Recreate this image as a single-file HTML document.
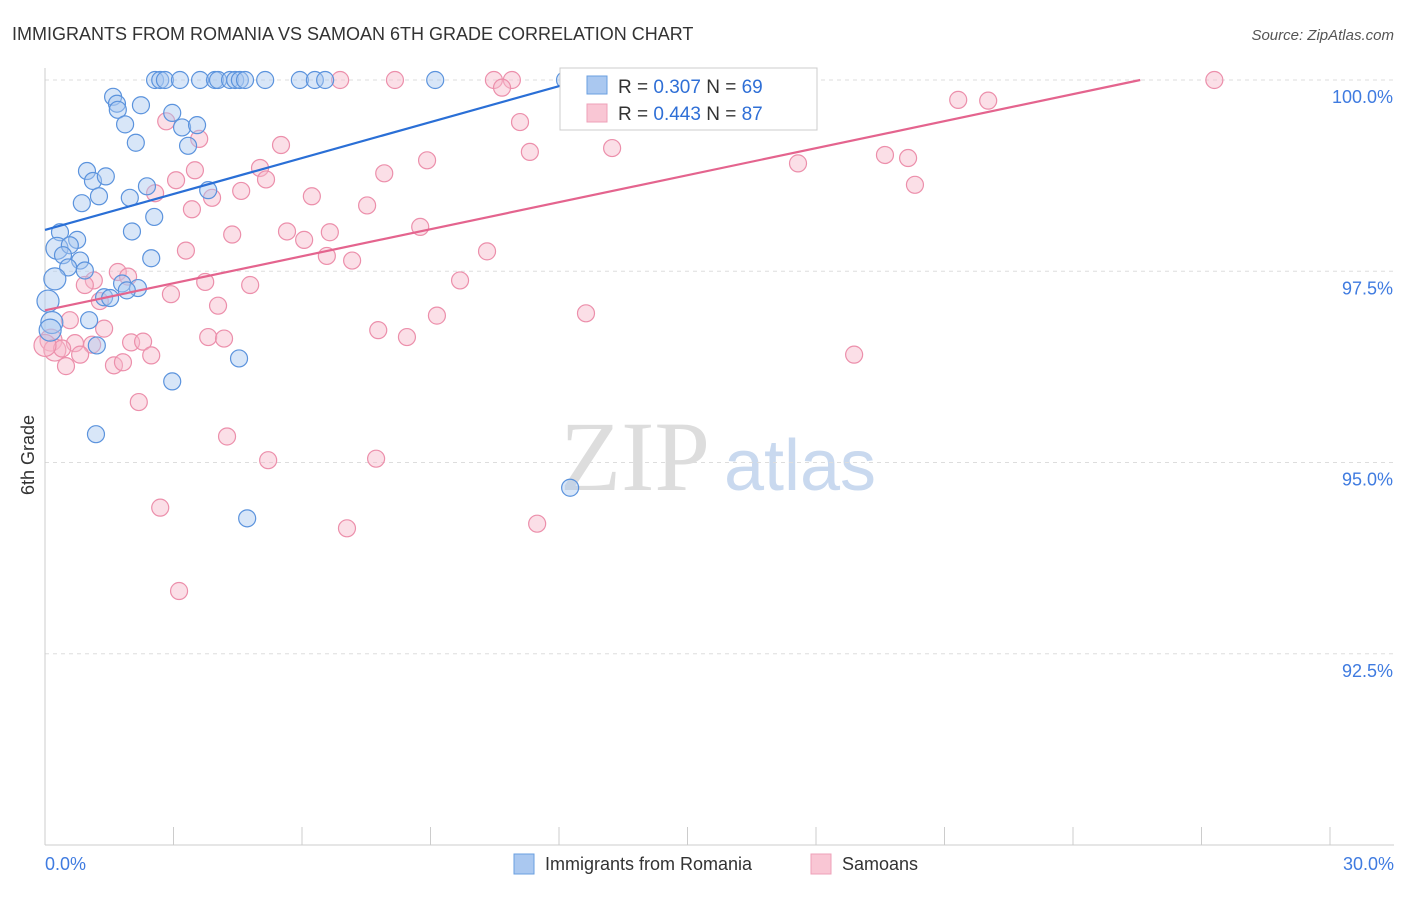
<!DOCTYPE html>
<html><head><meta charset="utf-8"><style>
body{margin:0;background:#fff;font-family:"Liberation Sans",sans-serif;}
svg text{font-family:"Liberation Sans",sans-serif;}
</style></head><body>
<svg id="chart" width="1406" height="892" xmlns="http://www.w3.org/2000/svg">
<text x="12" y="40" font-size="18" fill="#333">IMMIGRANTS FROM ROMANIA VS SAMOAN 6TH GRADE CORRELATION CHART</text>
<text x="1394" y="40" font-size="15" fill="#555" text-anchor="end" font-style="italic">Source: ZipAtlas.com</text>
<text x="34" y="455" font-size="18" fill="#333" text-anchor="middle" transform="rotate(-90 34 455)">6th Grade</text>
<g>
<text x="635" y="490" font-size="100" fill="#ddd" text-anchor="middle" font-family="Liberation Serif,serif" style="font-family:'Liberation Serif',serif">ZIP</text>
<text x="800" y="490" font-size="72" fill="#c9d9ef" text-anchor="middle">atlas</text>
</g>
<g id="grid"></g><g id="axes"></g><g id="marks"></g>
<g>
<rect x="560" y="68" width="257" height="62" fill="#fff" stroke="#ccc"/>
<rect x="587" y="76" width="20" height="18" fill="#aac8f0" stroke="#6a9fe0"/>
<rect x="587" y="104" width="20" height="18" fill="#f9c6d4" stroke="#eea0b8"/>
<text x="618" y="93" font-size="19" fill="#333">R = <tspan fill="#2f6fd6">0.307</tspan>   N = <tspan fill="#2f6fd6">69</tspan></text>
<text x="618" y="120" font-size="19" fill="#333">R = <tspan fill="#2f6fd6">0.443</tspan>   N = <tspan fill="#2f6fd6">87</tspan></text>
</g>
<g>
<rect x="514" y="854" width="20" height="20" fill="#aac8f0" stroke="#6a9fe0"/>
<text x="545" y="870" font-size="18" fill="#333">Immigrants from Romania</text>
<rect x="811" y="854" width="20" height="20" fill="#f9c6d4" stroke="#eea0b8"/>
<text x="842" y="870" font-size="18" fill="#333">Samoans</text>
</g>
</svg>
<script>
const blueX=[2.57,2.69,2.80,3.15,3.62,3.97,4.04,4.32,4.44,4.55,4.67,5.14,5.95,6.30,6.54,9.11,12.14,1.59,1.68,1.70,2.24,2.97,1.87,3.20,3.55,2.12,3.34,0.98,1.12,1.42,2.38,0.86,1.26,1.98,3.81,2.55,2.03,0.35,0.75,0.28,0.58,0.42,0.82,0.54,0.93,2.48,0.23,1.80,2.17,1.91,1.38,1.52,0.07,1.03,0.16,0.12,1.21,4.53,2.97,1.19,12.26,4.72];
const blueY=[100,100,100,100,100,100,100,100,100,100,100,100,100,100,100,100,100,99.78,99.69,99.61,99.67,99.57,99.42,99.38,99.41,99.18,99.14,98.81,98.68,98.74,98.61,98.39,98.48,98.46,98.56,98.21,98.02,98.01,97.91,97.80,97.84,97.71,97.64,97.55,97.51,97.67,97.40,97.34,97.28,97.25,97.16,97.15,97.11,96.86,96.83,96.73,96.53,96.36,96.06,95.37,94.67,94.27];
const pinkX=[6.89,8.17,10.48,10.90,12.49,14.55,27.30,10.67,21.32,22.02,2.83,11.09,3.60,5.51,11.32,13.24,8.92,19.61,20.15,17.58,3.50,3.06,5.02,5.16,7.92,20.31,2.57,4.58,6.23,3.90,7.52,3.43,4.37,5.65,6.65,6.05,8.76,3.29,10.32,6.58,7.17,1.70,1.94,1.14,0.93,3.74,4.79,9.69,2.94,1.28,4.04,12.63,0.58,1.38,7.78,9.15,8.45,3.81,4.18,2.01,2.29,1.10,0.70,0.14,0.23,0.40,0.82,2.48,1.61,1.82,0.49,18.89,2.19,4.25,5.21,7.73,2.69,7.05,11.49,3.13,0];
const pinkY=[100,100,100,100,100,100,100,99.90,99.74,99.73,99.46,99.45,99.23,99.15,99.06,99.11,98.95,99.02,98.98,98.91,98.82,98.69,98.85,98.70,98.78,98.63,98.52,98.55,98.48,98.46,98.36,98.31,97.98,98.02,98.01,97.91,98.08,97.77,97.76,97.70,97.64,97.49,97.43,97.38,97.32,97.36,97.32,97.38,97.20,97.11,97.05,96.95,96.86,96.75,96.73,96.92,96.64,96.64,96.62,96.57,96.58,96.54,96.56,96.60,96.47,96.49,96.41,96.40,96.27,96.31,96.26,96.41,95.79,95.34,95.03,95.05,94.41,94.14,94.20,93.32,96.53];
const blueTrend=[[0,98.04],[12.96,100.07]];
const pinkTrend=[[0,96.99],[25.57,100.0]];
const yTicks=[100,97.5,95,92.5];
const yTickLabels=["100.0%","97.5%","95.0%","92.5%"];
const xTicks=[0,3,6,9,12,15,18,21,24,27,30];

const NS="http://www.w3.org/2000/svg";
const X0=45,X1=1330,Y0=845,Y1=80;
const sx=v=>X0+(v-0)/30*(X1-X0);
const sy=v=>Y0-(v-90)/10*(Y0-Y1);
function mk(tag,attrs,parent){const e=document.createElementNS(NS,tag);for(const k in attrs)e.setAttribute(k,attrs[k]);parent.appendChild(e);return e;}
const grid=document.getElementById('grid'),axes=document.getElementById('axes'),marks=document.getElementById('marks');
yTicks.forEach((t,i)=>{
 const l=mk('line',{x1:X0,x2:1394,y1:sy(t),y2:sy(t),stroke:'#ddd','stroke-dasharray':'4,4'},grid);
 
 
 const tx=mk('text',{x:1393,y:sy(t)+23,'font-size':18,fill:'#3f7be0','text-anchor':'end'},axes);
 tx.textContent=yTickLabels[i];
 
 
});
const ax=mk('line',{x1:X0,x2:X0,y1:68,y2:Y0,stroke:'#ccc'},axes);


const bx=mk('line',{x1:X0,x2:1394,y1:Y0,y2:Y0,stroke:'#ccc'},axes);


xTicks.forEach(t=>{
 const l=mk('line',{x1:sx(t),x2:sx(t),y1:827,y2:Y0,stroke:'#ccc'},axes);
 
 
});
const xl0=mk('text',{x:45,y:870,'font-size':18,fill:'#3f7be0'},axes);xl0.textContent='0.0%';


const xl1=mk('text',{x:1394,y:870,'font-size':18,fill:'#3f7be0','text-anchor':'end'},axes);xl1.textContent='30.0%';


function dots(xs,ys,fill,stroke,name){
 xs.forEach((x,i)=>{
  const r=x<0.3?11:8.5;
  const c=mk('circle',{cx:sx(x),cy:sy(ys[i]),r:r,fill:fill,'fill-opacity':0.45,stroke:stroke,'stroke-width':1.2},marks);
  
  
 });
}
dots(pinkX,pinkY,'#f7b7ca','#ec8fab','samoans-point');
dots(blueX,blueY,'#a9c7ef','#5b93dd','romania-point');
const tb=mk('line',{x1:sx(blueTrend[0][0]),y1:sy(blueTrend[0][1]),x2:sx(blueTrend[1][0]),y2:sy(blueTrend[1][1]),stroke:'#2a6fd6','stroke-width':2.2},marks);


const tp=mk('line',{x1:sx(pinkTrend[0][0]),y1:sy(pinkTrend[0][1]),x2:sx(pinkTrend[1][0]),y2:sy(pinkTrend[1][1]),stroke:'#e4648e','stroke-width':2.2},marks);


</script>
</body></html>
